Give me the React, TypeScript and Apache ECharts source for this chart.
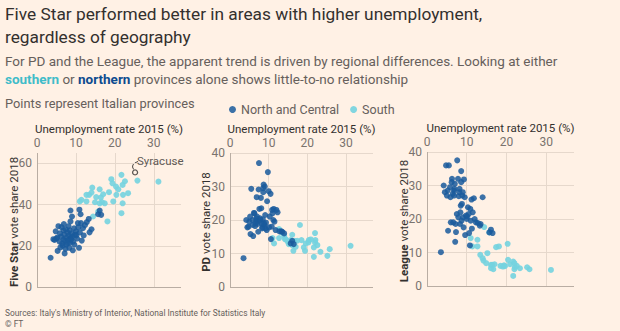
import React, { useEffect, useRef } from "react";
import * as echarts from "echarts";

// ---------- data ----------
// North and Central provinces
const northUnemp = [3.5, 5.3, 6.0, 7.1, 8.3, 4.5, 5.0, 5.8, 6.2, 6.5, 6.8, 7.0, 7.2, 7.5, 7.6, 7.8, 8.0, 8.2, 8.4, 8.5, 8.7, 8.9, 9.1, 9.3, 9.5, 9.8, 10.0, 10.3, 10.6, 11.0, 11.3, 11.8, 12.3, 12.8, 13.3, 5.5, 6.3, 6.8, 4.8, 5.9, 7.4, 8.6, 8.6, 10.9, 11.2, 9.0, 16.1, 15.7, 16.5, 10.5, 12.0, 13.5, 11.5, 7.3, 6.6, 9.6, 10.8, 5.2, 4.2, 6.9, 8.1, 14.0, 9.2, 7.9, 10.1, 8.8];
const northFiveStar = [14.2, 17.5, 19.2, 16.3, 19.0, 22.8, 23.5, 22.0, 24.5, 21.0, 23.0, 25.5, 22.5, 20.5, 24.0, 26.5, 22.8, 25.0, 27.5, 21.5, 23.8, 26.0, 24.5, 22.0, 28.5, 25.5, 27.0, 23.5, 29.0, 26.5, 31.0, 28.5, 30.0, 31.5, 33.0, 29.5, 29.0, 27.5, 27.0, 26.0, 28.0, 31.8, 37.1, 37.5, 35.3, 34.2, 37.1, 35.3, 35.0, 31.0, 25.0, 26.5, 22.5, 18.5, 20.0, 20.5, 19.0, 24.0, 23.2, 30.5, 29.5, 28.0, 17.8, 21.3, 25.0, 23.0];
const northPD = [8.6, 15.8, 15.2, 19.5, 17.5, 17.8, 19.5, 20.0, 22.1, 18.2, 19.8, 21.0, 18.8, 37.0, 23.3, 20.5, 26.6, 19.0, 17.8, 20.2, 30.6, 18.5, 21.5, 19.2, 17.0, 34.3, 28.6, 21.0, 14.3, 22.0, 23.3, 17.0, 22.3, 16.6, 16.6, 29.3, 22.0, 20.5, 18.0, 18.5, 29.1, 28.3, 29.5, 23.0, 20.0, 30.0, 13.8, 13.0, 12.8, 27.8, 23.0, 16.5, 19.5, 16.5, 19.0, 25.6, 18.0, 21.0, 20.0, 26.8, 23.5, 16.0, 17.5, 20.0, 17.8, 19.0];
const northLeague = [10.1, 16.5, 19.0, 13.2, 18.5, 28.0, 27.0, 29.5, 31.0, 27.5, 28.5, 30.5, 18.5, 21.5, 37.5, 32.0, 26.8, 29.0, 22.0, 24.0, 19.5, 27.0, 20.5, 31.8, 26.5, 21.0, 20.0, 23.5, 15.8, 19.5, 17.1, 26.2, 19.0, 18.8, 18.0, 36.0, 32.0, 27.0, 36.0, 26.5, 40.5, 34.3, 31.0, 23.0, 25.8, 28.0, 16.8, 16.0, 15.8, 21.5, 20.0, 18.5, 22.0, 16.1, 19.0, 15.2, 12.1, 28.5, 30.0, 29.0, 28.0, 26.5, 17.5, 20.5, 20.8, 24.5];

// South provinces (Syracuse listed separately)
const southUnemp = [11.0, 11.4, 12.7, 13.4, 14.0, 14.2, 14.9, 16.1, 16.4, 16.1, 16.7, 17.4, 15.7, 14.4, 18.1, 18.5, 19.1, 19.4, 20.3, 20.4, 19.6, 20.9, 21.7, 22.0, 22.1, 22.0, 21.7, 23.4, 22.6, 25.8, 31.2, 12.7, 15.2, 17.0];
const southFiveStar = [41.5, 42.3, 41.5, 44.7, 45.8, 48.2, 41.1, 47.4, 43.4, 40.6, 41.1, 40.6, 36.6, 34.2, 31.8, 46.0, 52.3, 50.3, 48.7, 44.7, 41.5, 47.4, 54.4, 49.5, 44.7, 40.6, 35.8, 45.5, 51.3, 51.6, 51.1, 44.7, 43.6, 45.0];
const southPD = [14.6, 13.0, 17.3, 16.3, 15.3, 14.3, 13.6, 15.6, 10.8, 12.5, 13.8, 13.8, 14.0, 14.3, 18.5, 14.0, 11.8, 10.8, 13.3, 14.0, 13.0, 14.2, 11.8, 16.1, 14.0, 13.3, 9.0, 10.5, 12.5, 11.3, 12.3, 14.6, 12.8, 12.0];
const southLeague = [14.3, 11.8, 13.8, 9.3, 8.3, 7.6, 6.8, 6.3, 6.3, 5.3, 5.0, 11.6, 16.0, 17.6, 11.8, 6.0, 5.8, 6.2, 12.6, 7.8, 5.9, 6.5, 7.3, 6.8, 5.6, 5.0, 3.0, 5.3, 6.0, 5.0, 4.8, 11.8, 9.8, 6.5];

const syracuseName = "Syracuse";
const syracuseUnemp = 25.2;
const syracuseFiveStar = 55.6;
const syracusePD = 9.3;
const syracuseLeague = 5.6;

const xMax = 37;
const panelYMax = [65, 40, 40];
const panelYInterval = [20, 10, 10];
const panelParty = ["Five Star", "PD", "League"];

// ---------- styling ----------
const FONT = "Roboto, sans-serif";
const BG = "#fff1e5";
const DARK = "#33302e";
const GREY = "#66605c";
const TICK = "#7a736e";
const GRID = "#e6d8cc";
const AXIS = "#b9ada3";
const NORTH = "#1a5a9c";
const SOUTH = "#74d3df";

const zip = (a: number[], b: number[]) => a.map((v, i) => [v, b[i]]);

export default function App() {
  const ref = useRef<HTMLDivElement>(null);
  useEffect(() => {
    if (!ref.current) return;
    const chart = echarts.init(ref.current, undefined, { renderer: "svg" });

    const grids = [
      { left: 37, top: 153, width: 144, height: 134 },
      { left: 230, top: 153, width: 143, height: 134 },
      { left: 427, top: 152, width: 147, height: 134 },
    ];
    const yNameX = [14, 206, 404];

    const nYTicks = (i: number) => Math.floor(panelYMax[i] / panelYInterval[i]) + 1;
    const hasExtra = (i: number) => panelYMax[i] % panelYInterval[i] !== 0;

    const xAxes = grids.map((_, i) => ({
      type: "value",
      gridIndex: i,
      position: "top",
      min: 0,
      max: xMax,
      interval: 10,
      name: "Unemployment rate 2015 (%)",
      nameLocation: "middle",
      nameGap: 18,
      nameTextStyle: { color: DARK, fontSize: 11.5, fontFamily: FONT },
      axisLine: { show: false },
      axisTick: { show: false },
      axisLabel: {
        color: TICK,
        fontSize: 12,
        fontFamily: FONT,
        margin: 4,
        showMaxLabel: false,
      },
      splitLine: {
        show: true,
        lineStyle: { color: [AXIS, GRID, GRID, GRID, "rgba(0,0,0,0)"], width: 1 },
      },
    }));

    const yAxes = grids.map((_, i) => {
      const colors: string[] = [AXIS];
      for (let k = 1; k < nYTicks(i); k++) colors.push(GRID);
      if (hasExtra(i)) colors.push("rgba(0,0,0,0)");
      return {
        type: "value",
        gridIndex: i,
        min: 0,
        max: panelYMax[i],
        interval: panelYInterval[i],
        axisLine: { show: false },
        axisTick: { show: false },
        axisLabel: {
          color: TICK,
          fontSize: 12,
          fontFamily: FONT,
          margin: 5,
          showMaxLabel: !hasExtra(i),
        },
        splitLine: { show: true, lineStyle: { color: colors, width: 1 } },
      };
    });

    const scatterBase = {
      type: "scatter",
      symbolSize: 6,
      silent: true,
    };

    const southSets = [
      zip(southUnemp, southFiveStar),
      zip([...southUnemp, syracuseUnemp], [...southPD, syracusePD]),
      zip([...southUnemp, syracuseUnemp], [...southLeague, syracuseLeague]),
    ];
    const northSets = [
      zip(northUnemp, northFiveStar),
      zip(northUnemp, northPD),
      zip(northUnemp, northLeague),
    ];

    const series: any[] = [];
    for (let i = 0; i < 3; i++) {
      series.push({
        ...scatterBase,
        name: "South",
        xAxisIndex: i,
        yAxisIndex: i,
        itemStyle: { color: SOUTH, opacity: 0.9 },
        data: southSets[i],
      });
      series.push({
        ...scatterBase,
        name: "North and Central",
        xAxisIndex: i,
        yAxisIndex: i,
        itemStyle: { color: NORTH, opacity: 0.85 },
        data: northSets[i],
      });
    }
    series.push({
      type: "scatter",
      name: "Syracuse",
      xAxisIndex: 0,
      yAxisIndex: 0,
      symbolSize: 5,
      silent: true,
      itemStyle: { color: "rgba(0,0,0,0)", borderColor: DARK, borderWidth: 1.3 },
      label: {
        show: true,
        formatter: syracuseName,
        position: [5, -14],
        color: DARK,
        fontSize: 11.5,
        fontFamily: FONT,
      },
      data: [[syracuseUnemp, syracuseFiveStar]],
    });

    const yNames = grids.map((g, i) => ({
      type: "text",
      x: yNameX[i],
      y: g.top + g.height / 2 + 2,
      rotation: Math.PI / 2,
      silent: true,
      style: {
        text: `{b|${panelParty[i]}} vote share 2018`,
        fill: DARK,
        font: `11.5px ${FONT}`,
        align: "center",
        verticalAlign: "middle",
        rich: { b: { fontWeight: "bold", fontSize: 11.5, fill: DARK, fontFamily: FONT } },
      },
    }));

    const graphicBase: any[] = [
      {
        type: "text",
        left: 5,
        top: 3,
        style: {
          text: "Five Star performed better in areas with higher unemployment,\nregardless of geography",
          fill: DARK,
          font: `17.3px ${FONT}`,
          lineHeight: 22.5,
        },
      },
      {
        type: "text",
        left: 5,
        top: 52,
        style: {
          text:
            "For PD and the League, the apparent trend is driven by regional differences. Looking at either\n{s|southern} or {n|northern} provinces alone shows little-to-no relationship",
          fill: GREY,
          font: `13.5px ${FONT}`,
          lineHeight: 18,
          rich: {
            s: { fill: "#3fbcc9", fontWeight: "bold", fontSize: 13.5, fontFamily: FONT, lineHeight: 18 },
            n: { fill: "#0d4b8f", fontWeight: "bold", fontSize: 13.5, fontFamily: FONT, lineHeight: 18 },
          },
        },
      },
      {
        type: "text",
        left: 5,
        top: 97,
        style: { text: "Points represent Italian provinces", fill: GREY, font: `12.8px ${FONT}` },
      },
      {
        type: "text",
        left: 5,
        top: 307,
        style: {
          text: "Sources: Italy's Ministry of Interior, National Institute for Statistics Italy\n© FT",
          fill: GREY,
          font: `8.4px ${FONT}`,
          lineHeight: 11,
        },
      },
      ...yNames,
    ];

    const option: any = {
      animation: false,
      backgroundColor: BG,
      textStyle: { fontFamily: FONT },
      grid: grids,
      xAxis: xAxes,
      yAxis: yAxes,
      legend: {
        data: ["North and Central", "South"],
        left: 224,
        top: 98,
        icon: "circle",
        itemWidth: 7,
        itemHeight: 7,
        itemGap: 11,
        textStyle: { color: GREY, fontSize: 12.5, fontFamily: FONT },
        selectedMode: false,
      },
      series,
      graphic: graphicBase,
    };
    chart.setOption(option);

    const p = chart.convertToPixel({ xAxisIndex: 0, yAxisIndex: 0 }, [syracuseUnemp, syracuseFiveStar]) as number[];
    if (p && isFinite(p[0])) {
      chart.setOption({
        graphic: [
          ...graphicBase,
          {
            type: "bezierCurve",
            silent: true,
            shape: { x1: p[0] - 1.5, y1: p[1] - 3, cpx1: p[0] - 5, cpy1: p[1] - 8, x2: p[0] + 3, y2: p[1] - 11 },
            style: { stroke: DARK, lineWidth: 0.9, fill: "none" },
          },
        ],
      });
    }

    return () => chart.dispose();
  }, []);
  return (
    <div
      ref={ref}
      style={{ position: "fixed", left: 0, top: 0, width: 620, height: 331, background: BG }}
    />
  );
}
